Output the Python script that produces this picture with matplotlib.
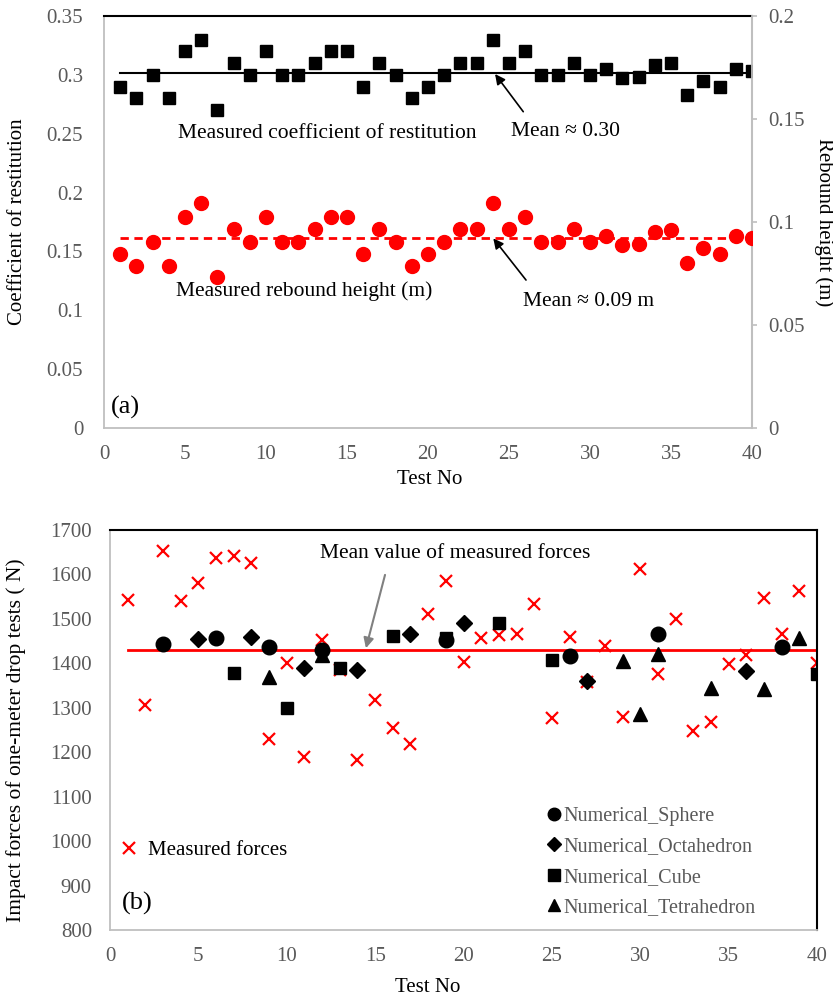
import matplotlib.pyplot as plt
from matplotlib.lines import Line2D
from matplotlib.ticker import FuncFormatter

plt.rcParams['font.family'] = ['Liberation Serif', 'DejaVu Serif']

# ---- panel (a) data ----
test_no = list(range(1, 41))
restitution = [0.29, 0.28, 0.30, 0.28, 0.32, 0.33, 0.27, 0.31, 0.30, 0.32,
               0.30, 0.30, 0.31, 0.32, 0.32, 0.29, 0.31, 0.30, 0.28, 0.29,
               0.30, 0.31, 0.31, 0.33, 0.31, 0.32, 0.30, 0.30, 0.31, 0.30,
               0.305, 0.297, 0.298, 0.308, 0.31, 0.283, 0.295, 0.29, 0.305, 0.303]
rebound = [0.0845, 0.0786, 0.0903, 0.0786, 0.1024, 0.1092, 0.0733, 0.0966, 0.0903, 0.1024,
           0.0903, 0.0903, 0.0966, 0.1024, 0.1024, 0.0845, 0.0966, 0.0903, 0.0786, 0.0845,
           0.0903, 0.0966, 0.0966, 0.1092, 0.0966, 0.1024, 0.0903, 0.0903, 0.0966, 0.0903,
           0.0932, 0.0888, 0.0893, 0.0951, 0.0961, 0.0801, 0.0874, 0.0845, 0.0932, 0.0922]
mean_restitution = 0.302
mean_rebound = 0.0922

# ---- panel (b) data ----
measured_forces = [1543, 1306, 1653, 1541, 1580, 1636, 1641, 1626, 1229, 1401,
                   1190, 1452, 1385, 1182, 1317, 1255, 1218, 1512, 1586, 1402,
                   1456, 1464, 1465, 1533, 1276, 1460, 1357, 1439, 1280, 1612,
                   1376, 1500, 1248, 1267, 1398, 1419, 1548, 1465, 1563, 1400]
mean_force = 1430

sphere_x = [3, 6, 9, 12, 19, 26, 31, 38]
sphere_y = [1443, 1458, 1437, 1430, 1452, 1417, 1467, 1437]
octa_x = [5, 8, 11, 14, 17, 20, 27, 36]
octa_y = [1454, 1460, 1390, 1386, 1466, 1490, 1360, 1383]
cube_x = [7, 10, 13, 16, 19, 22, 25, 40]
cube_y = [1379, 1300, 1389, 1461, 1458, 1490, 1407, 1377]
tetra_x = [9, 12, 29, 30, 31, 34, 37, 39]
tetra_y = [1370, 1419, 1406, 1286, 1422, 1344, 1342, 1456]

GRAY_SPINE = '#BFBFBF'
TICK_COLOR = '#595959'
FS = 15


def fmt(v, _):
    return f'{v:g}'


def style_axis(ax, right_color, ypad):
    for side in ['left', 'bottom']:
        ax.spines[side].set_color(GRAY_SPINE)
        ax.spines[side].set_linewidth(1.3)
    ax.spines['top'].set_color('black')
    ax.spines['top'].set_linewidth(1.5)
    ax.spines['right'].set_color(right_color)
    ax.spines['right'].set_linewidth(1.5)
    ax.tick_params(axis='both', length=0, labelsize=FS, labelcolor=TICK_COLOR)
    ax.tick_params(axis='y', pad=ypad)
    ax.tick_params(axis='x', pad=12)


fig = plt.figure(figsize=(8.33, 9.98), dpi=100)

# ================= panel (a) =================
ax1 = fig.add_axes([104 / 833, 1 - 428 / 998, 648 / 833, 412 / 998])
ax2 = ax1.twinx()

ax1.plot(test_no, restitution, 's', color='black', ms=9.2, zorder=3)
ax1.plot([1, 40], [mean_restitution, mean_restitution], color='black', lw=1.5, zorder=2)
ax2.plot(test_no, rebound, 'o', color='#FF0000', ms=10, zorder=3)
ax2.plot([1, 40], [mean_rebound, mean_rebound], color='#FF0000', lw=2,
         dashes=(3, 2), zorder=2)

ax1.set_xlim(0, 40)
ax1.set_ylim(0, 0.35)
ax2.set_ylim(0, 0.2)
ax1.set_xticks(range(0, 41, 5))
ax1.set_yticks([i * 0.05 for i in range(8)])
ax2.set_yticks([i * 0.05 for i in range(5)])
ax1.yaxis.set_major_formatter(FuncFormatter(fmt))
ax2.yaxis.set_major_formatter(FuncFormatter(fmt))

style_axis(ax1, GRAY_SPINE, 15)
for side in ['left', 'bottom', 'top']:
    ax2.spines[side].set_visible(False)
ax2.spines['right'].set_color(GRAY_SPINE)
ax2.spines['right'].set_linewidth(1.3)
ax2.tick_params(axis='y', length=3.6, width=1.2, color=GRAY_SPINE,
                labelsize=FS, labelcolor=TICK_COLOR, pad=8)

ax1.text(4.55, 0.2506, 'Measured coefficient of restitution', fontsize=15.5, va='center')
ax1.text(25.1, 0.2517, 'Mean \u2248 0.30', fontsize=15.5, va='center')
ax1.annotate('', xy=(24.14, 0.3007), xytext=(25.88, 0.2687),
             arrowprops=dict(arrowstyle='-|>', color='black', lw=1.2,
                             mutation_scale=15, shrinkA=0, shrinkB=0))
ax1.text(4.44, 0.1164, 'Measured rebound height (m)', fontsize=15.5, va='center')
ax1.text(25.86, 0.1073, 'Mean \u2248 0.09 m', fontsize=15.5, va='center')
ax1.annotate('', xy=(24.03, 0.1611), xytext=(26.05, 0.1257),
             arrowprops=dict(arrowstyle='-|>', color='black', lw=1.2,
                             mutation_scale=15, shrinkA=0, shrinkB=0))
ax1.text(0.45, 0.0178, '(a)', fontsize=19, va='center')

fig.text(18 / 833, 1 - 222 / 998, 'Coefficient of restitution', rotation=90,
         fontsize=FS, ha='center', va='center')
fig.text(824 / 833, 1 - 222 / 998, 'Rebound height (m)', rotation=270,
         fontsize=FS, ha='center', va='center')
fig.text(430 / 833, 1 - 480 / 998, 'Test No', fontsize=FS, ha='center', va='center')

# ================= panel (b) =================
ax3 = fig.add_axes([110 / 833, 1 - 930 / 998, 707 / 833, 400 / 998])

ax3.plot(test_no, measured_forces, 'x', color='#FF0000', ms=8.5, mew=1.6, zorder=2)
ax3.plot([1, 40], [mean_force, mean_force], color='#FF0000', lw=2, zorder=1)
ax3.plot(sphere_x, sphere_y, 'o', color='black', ms=10.5, zorder=3)
ax3.plot(octa_x, octa_y, 'D', color='black', ms=8.5, zorder=3)
ax3.plot(cube_x, cube_y, 's', color='black', ms=9, zorder=3)
ax3.plot(tetra_x, tetra_y, '^', color='black', ms=10, zorder=3)

ax3.set_xlim(0, 40)
ax3.set_ylim(800, 1700)
ax3.set_xticks(range(0, 41, 5))
ax3.set_yticks(range(800, 1701, 100))
style_axis(ax3, 'black', 13)

ax3.text(11.88, 1648, 'Mean value of measured forces', fontsize=15.5, va='center')
ax3.annotate('', xy=(14.48, 1434), xytext=(15.56, 1599),
             arrowprops=dict(arrowstyle='-|>', color='#808080', lw=1.5,
                             mutation_scale=15, shrinkA=0, shrinkB=0))
ax3.text(0.7, 860, '(b)', fontsize=19, va='center')

num_handles = [
    Line2D([], [], ls='none', marker='o', color='black', ms=9, label='Numerical_Sphere'),
    Line2D([], [], ls='none', marker='D', color='black', ms=7, label='Numerical_Octahedron'),
    Line2D([], [], ls='none', marker='s', color='black', ms=8, label='Numerical_Cube'),
    Line2D([], [], ls='none', marker='^', color='black', ms=9, label='Numerical_Tetrahedron'),
]
leg1 = ax3.legend(handles=num_handles, loc='lower left', bbox_to_anchor=(0.613, 0.022),
                  frameon=False, fontsize=14.5, handlelength=0.7, handletextpad=0.1,
                  labelspacing=0.56, borderpad=0.2, borderaxespad=0.0,
                  labelcolor=TICK_COLOR)
ax3.add_artist(leg1)
meas_handle = [Line2D([], [], ls='none', marker='x', color='#FF0000', ms=8, mew=1.6,
                      label='Measured forces')]
ax3.legend(handles=meas_handle, loc='center left', bbox_to_anchor=(0.0, 0.2),
           frameon=False, fontsize=15, handlelength=1.0, handletextpad=0.4,
           borderaxespad=0.0)

fig.text(16 / 833, 1 - 740 / 998, 'Impact forces of one-meter drop tests ( N)',
         rotation=90, fontsize=15.5, ha='center', va='center')
fig.text(428 / 833, 1 - 987 / 998, 'Test No', fontsize=FS, ha='center', va='center')

fig.savefig('out.png', dpi=100)
